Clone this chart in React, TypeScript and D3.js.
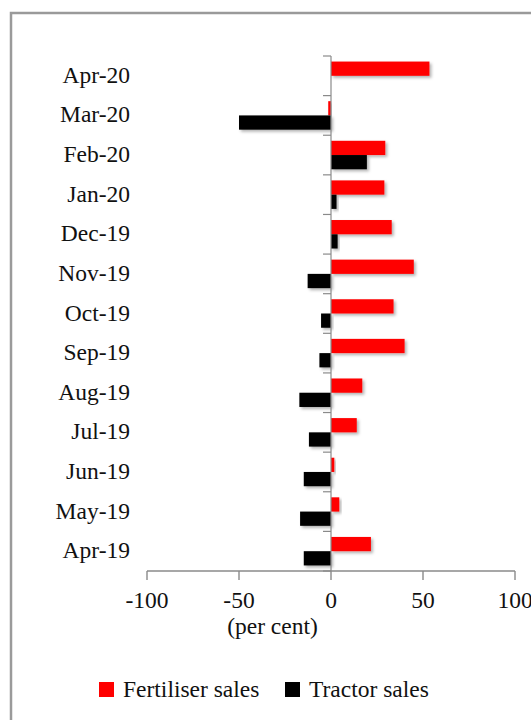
import React from "react";
import * as d3 from "d3";

const categories = ["Apr-20","Mar-20","Feb-20","Jan-20","Dec-19","Nov-19","Oct-19","Sep-19","Aug-19","Jul-19","Jun-19","May-19","Apr-19"];
const fertiliserSales = [53.5, -1.5, 29.5, 29, 33, 45, 34, 40, 17, 14, 1.8, 4.5, 21.7];
const tractorSales = [0, -50, 19.5, 3, 3.6, -12.7, -5.4, -6.3, -17.2, -12, -14.8, -16.8, -14.8];
const xTicks = [-100, -50, 0, 50, 100];
const seriesNames = ["Fertiliser sales", "Tractor sales"];
const seriesColors = ["#ff0000", "#000000"];

const W = 531, H = 720;
const FONT = "'Liberation Serif', 'Times New Roman', serif";
const FS = 23.5;

export default function App() {
  const x = d3.scaleLinear().domain([-100, 100]).range([147, 515]);
  const y0 = d3.scaleBand<string>().domain(categories).range([56, 571]).padding(0);
  const y1 = d3.scaleBand<string>().domain(["f", "t"]).range([0, y0.bandwidth()]).paddingInner(0).paddingOuter(0.39);
  const axisColor = "#8a8a8a";
  const zeroX = x(0);

  const bars: React.ReactNode[] = [];
  categories.forEach((c, i) => {
    const vals = [fertiliserSales[i], tractorSales[i]];
    ["f", "t"].forEach((k, j) => {
      const v = vals[j];
      if (v === 0) return;
      const x0 = Math.min(x(0), x(v));
      const w = Math.abs(x(v) - x(0));
      bars.push(
        <rect key={c + k} x={x0} y={(y0(c) as number) + (y1(k) as number)} width={w} height={y1.bandwidth()} fill={seriesColors[j]} filter="url(#sh)" />
      );
    });
  });

  const boundaries = d3.range(categories.length + 1).map((i) => y0.range()[0] + i * y0.step());

  return (
    <svg width={W} height={H} style={{ position: "absolute", left: 0, top: 0, background: "#fff" }} fontFamily={FONT}>
      <defs>
        <filter id="sh" x="-20%" y="-30%" width="150%" height="180%">
          <feDropShadow dx="2" dy="2" stdDeviation="1.5" floodColor="#000" floodOpacity="0.3" />
        </filter>
      </defs>
      <rect x={0} y={0} width={W} height={H} fill="#fff" />
      <path d={`M11,${H + 5} L11,13 L${W + 5},13`} fill="none" stroke="#9a9a9a" strokeWidth={2.5} />
      {bars}
      {/* y axis */}
      <line x1={zeroX} x2={zeroX} y1={56} y2={571} stroke={axisColor} strokeWidth={1.2} />
      {boundaries.map((b, i) => (
        <line key={"yt" + i} x1={zeroX - 8} x2={zeroX} y1={b} y2={b} stroke={axisColor} strokeWidth={1.2} />
      ))}
      {/* x axis */}
      <line x1={x(-100)} x2={x(100)} y1={571} y2={571} stroke={axisColor} strokeWidth={1.4} />
      {xTicks.map((t) => (
        <g key={"xt" + t}>
          <line x1={x(t)} x2={x(t)} y1={571} y2={580} stroke={axisColor} strokeWidth={1.4} />
          <text x={x(t)} y={608} textAnchor="middle" fontSize={FS} fill="#111">{t}</text>
        </g>
      ))}
      <text x={272.5} y={634} textAnchor="middle" fontSize={FS} fill="#111">(per cent)</text>
      {categories.map((c) => (
        <text key={"cl" + c} x={130} y={(y0(c) as number) + y0.bandwidth() / 2 + 7} textAnchor="end" fontSize={FS} fill="#111">{c}</text>
      ))}
      {/* legend */}
      {seriesNames.map((n, i) => {
        const lx = [99, 285][i];
        return (
          <g key={"lg" + n}>
            <rect x={lx} y={682} width={15} height={15} fill={seriesColors[i]} />
            <text x={lx + 24} y={697} fontSize={FS} fill="#111">{n}</text>
          </g>
        );
      })}
    </svg>
  );
}
